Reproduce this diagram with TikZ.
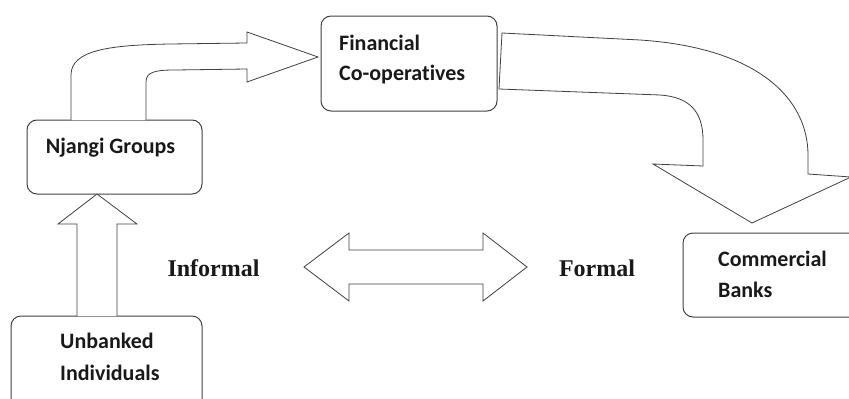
\documentclass[tikz,border=0pt]{standalone}
\usepackage{fontspec}
\setmainfont{Carlito}[Ligatures=NoCommon]
\newfontfamily\serifbold{Liberation Serif}
\begin{document}
\begin{tikzpicture}[x=1pt,y=-1pt,
  box/.style={draw=black!75,line width=1pt,rounded corners=10pt},
  blockarrow/.style={draw=black!75,line width=0.8pt,line join=miter,fill=white},
  boxtext/.style={font=\fontsize{22}{26}\selectfont\bfseries,inner sep=0pt,text=black!90},
  sidetext/.style={font=\serifbold\fontsize{24}{28}\selectfont\bfseries,inner sep=0pt,text=black!90}]
\useasboundingbox (0,0) rectangle (849,399);
\clip (0,0) rectangle (849,399);
% boxes
\draw[box] (27,120) rectangle (202,194);
\draw[box] (321,16) rectangle (497,111);
\draw[box] (683,233) rectangle (880,317);
\draw[box] (11,316) rectangle (202,430);
% texts
\node[boxtext,anchor=base] (njt) at (110.5,153) {Njangi Groups};
\node[boxtext,anchor=base west] (fct1) at (339,50) {Financial};
\node[boxtext,anchor=base west] (fct2) at (339,80) {Co-operatives};
\node[boxtext,anchor=base west] (cbt1) at (718,266) {Commercial};
\node[boxtext,anchor=base west] (cbt2) at (718,297) {Banks};
\node[boxtext,anchor=base west] (ubt1) at (60,348) {Unbanked};
\node[boxtext,anchor=base west] (ubt2) at (60,380) {Individuals};
\node[sidetext,anchor=base] (inf) at (213.5,276) {Informal};
\node[sidetext,anchor=base] (for) at (597,276) {Formal};
% up arrow: Unbanked -> Njangi
\draw[blockarrow] (77,316) -- (77,224) -- (58,224) -- (97,194) -- (137,224) -- (117,224) -- (117,316);
% curved arrow: Njangi -> Financial
\draw[blockarrow] (71,120) -- (71,75) .. controls (71,50) and (110,45) .. (170,44) -- (247,43)
  -- (247,32) -- (318,57) -- (247,82) -- (247,69) -- (175,70)
  .. controls (155,70) and (146,72) .. (146,82) -- (146,120);
% big curved arrow: Financial -> Commercial
\draw[blockarrow] (502,33) -- (640,40) .. controls (760,48) and (808,100) .. (808,155)
  -- (808,174) -- (851,177) -- (752,223) -- (653,164) -- (703,166) -- (703,140)
  .. controls (703,112) and (690,97) .. (660,95) -- (499,89) -- cycle;
% double arrow: Informal <-> Formal
\draw[blockarrow] (304,267) -- (349,233) -- (349,250) -- (483,250) -- (483,233) -- (527,267)
  -- (483,301) -- (483,284) -- (349,284) -- (349,301) -- cycle;
\end{tikzpicture}
\end{document}
